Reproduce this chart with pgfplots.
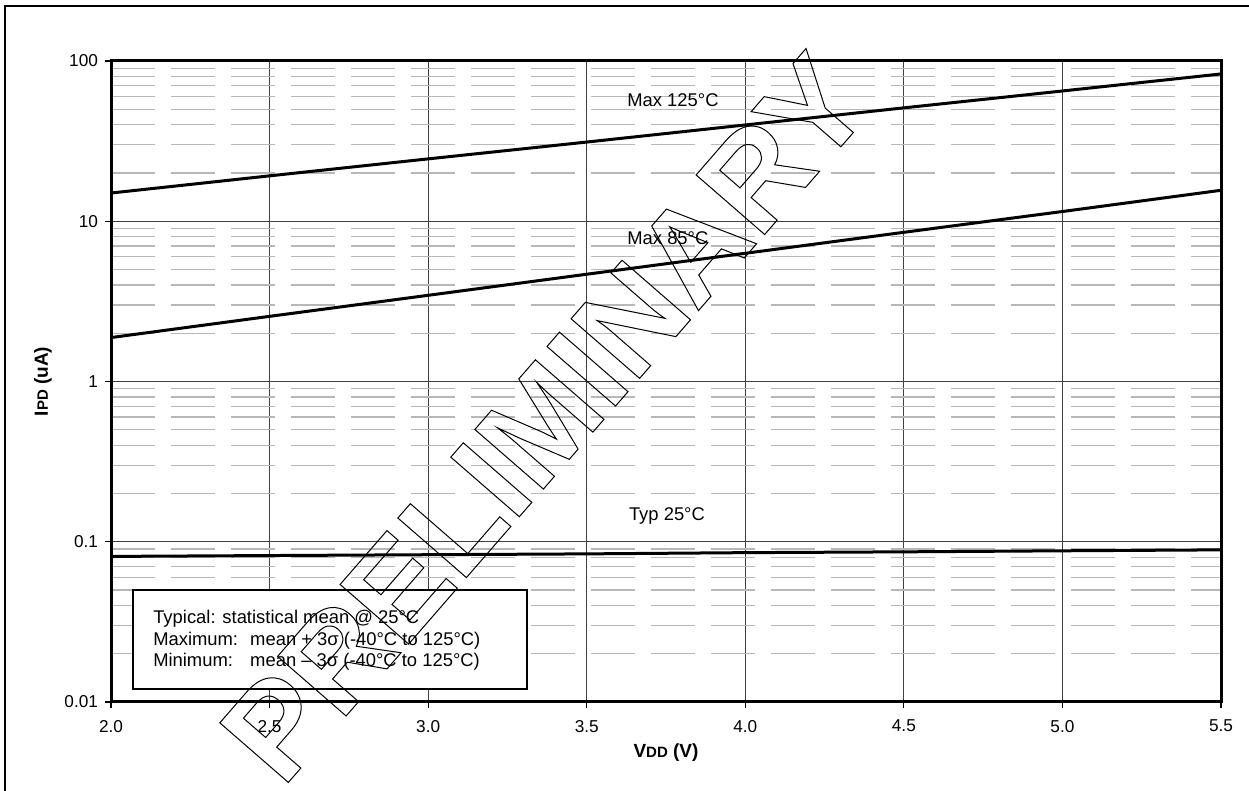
\documentclass[border=0pt]{standalone}
\usepackage{pgfplots}
\pgfplotsset{compat=1.18}
\usepackage{fontspec}
\setmainfont{Liberation Sans}
\begin{document}
\begin{tikzpicture}
% outer frame (cut off at right and bottom)
\draw[line width=1pt] (2.5pt,-20pt) -- (2.5pt,392.5pt) -- (650pt,392.5pt);
\begin{axis}[
  at={(55.5pt,44.5pt)}, anchor=south west,
  scale only axis, width=555pt, height=320.5pt,
  xmin=2, xmax=5.5, ymin=0.01, ymax=100, ymode=log,
  xtick={2,2.5,3,3.5,4,4.5,5,5.5},
  xticklabels={2.0,2.5,3.0,3.5,4.0,4.5,5.0,5.5},
  ytick={0.01,0.1,1,10,100},
  yticklabels={0.01,0.1,1,10,100},
  minor ytick={0.02,0.03,0.04,0.05,0.06,0.07,0.08,0.09,
               0.2,0.3,0.4,0.5,0.6,0.7,0.8,0.9,
               2,3,4,5,6,7,8,9,20,30,40,50,60,70,80,90},
  xmajorgrids, ymajorgrids, yminorgrids,
  major grid style={black!75, line width=0.5pt},
  minor grid style={black!28, line width=0.6pt, dash pattern=on 22pt off 8pt},
  axis line style={line width=1.5pt},
  tick style={black, line width=0.6pt},
  major tick length=3pt, minor tick length=0pt,
  tick align=outside, xtick pos=bottom, ytick pos=left,
  tick label style={font=\fontsize{8.6}{10}\selectfont},
  /pgf/number format/assume math mode=true,
  xticklabel style={yshift=-2.5pt},
  xlabel={\bfseries V{\fontsize{7.5}{9}\selectfont DD} (V)},
  ylabel={\bfseries I{\fontsize{7.5}{9}\selectfont PD} (uA)},
  label style={font=\fontsize{9.5}{11}\selectfont},
  xlabel style={at={(axis description cs:0.5,-0.0796)}, anchor=center},
  ylabel style={at={(axis description cs:-0.0613,0.5)}, anchor=center, rotate=0},
  clip=false,
]
\addplot[black, line width=1.5pt] coordinates {
 (2.0,15.0) (2.5,19.2) (3.0,24.5) (3.5,31.2) (4.0,39.9) (4.5,51.0) (5.0,65.0) (5.5,83.0)};
\addplot[black, line width=1.5pt] coordinates {
 (2.0,1.88) (2.5,2.55) (3.0,3.45) (3.5,4.67) (4.0,6.31) (4.5,8.53) (5.0,11.5) (5.5,15.6)};
\addplot[black, line width=1.5pt] coordinates {
 (2.0,0.081) (2.5,0.082) (3.0,0.083) (3.5,0.084) (4.0,0.0855) (4.5,0.0865) (5.0,0.0878) (5.5,0.089)};
\node[font=\fontsize{9.2}{11}\selectfont] at (axis cs:3.772,57.0) {Max 125°C};
\node[font=\fontsize{9.2}{11}\selectfont] at (axis cs:3.756,7.83) {Max 85°C};
\node[font=\fontsize{9.2}{11}\selectfont] at (axis cs:3.753,0.1454) {Typ 25°C};
\draw[line width=1pt, fill=white] (axis cs:2.069,0.0501) rectangle (axis cs:3.312,0.01205);
\node[anchor=base west, inner sep=0pt, font=\fontsize{9.2}{11}\selectfont] at (axis cs:2.132,0.03073) {Typical: statistical mean @ 25°C};
\node[anchor=base west, inner sep=0pt, font=\fontsize{9.2}{11}\selectfont] at (axis cs:2.132,0.02239) {\makebox[48.5pt][l]{Maximum:}mean + 3σ (-40°C to 125°C)};
\node[anchor=base west, inner sep=0pt, font=\fontsize{9.2}{11}\selectfont] at (axis cs:2.132,0.01655) {\makebox[48.5pt][l]{Minimum:}mean – 3σ (-40°C to 125°C)};
\end{axis}
% PRELIMINARY watermark (outlined text)
\node[rotate=49, font=\bfseries\fontsize{66}{66}\selectfont, inner sep=0pt] at (272.5pt,186.5pt)
 {\special{pdf:literal direct 1 Tr 0.5 w}PRELIMINARY\special{pdf:literal direct 0 Tr}};
\pgfresetboundingbox
\useasboundingbox (0,0) rectangle (624.5pt,395.5pt);
\end{tikzpicture}
\end{document}
